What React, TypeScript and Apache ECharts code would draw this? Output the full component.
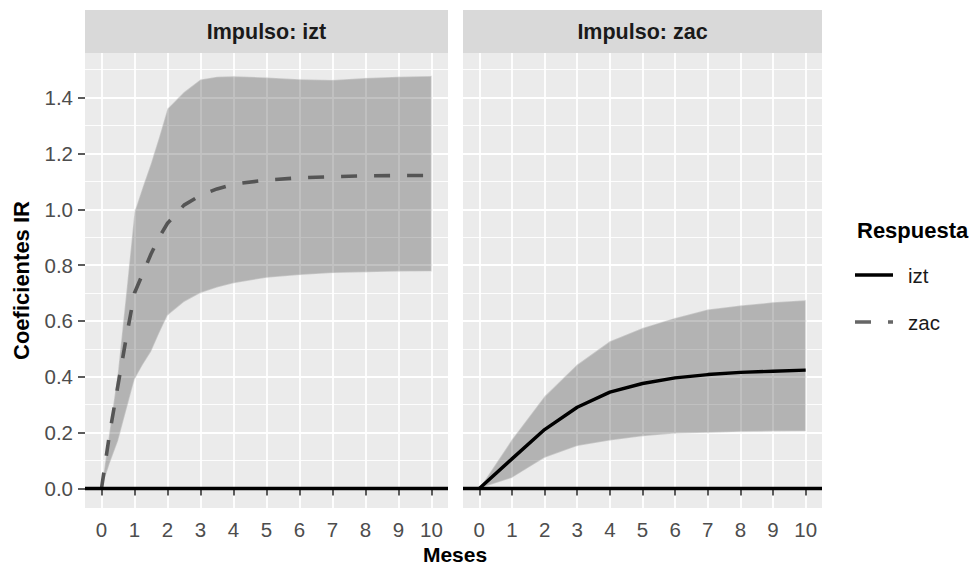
import React, { useEffect, useRef } from "react";
import * as echarts from "echarts";

// ---- data ----
const mesesIzt = [0, 0.25, 0.5, 0.75, 1, 1.25, 1.5, 1.75, 2, 2.5, 3, 3.5, 4, 5, 6, 7, 8, 9, 10];
// Impulso izt -> respuesta zac
const iztZacMid = [0, 0.2, 0.37, 0.54, 0.7, 0.77, 0.84, 0.9, 0.95, 1.015, 1.05, 1.073, 1.09, 1.105, 1.113, 1.117, 1.12, 1.121, 1.121];
const iztZacUpper = [0, 0.21, 0.42, 0.7, 0.99, 1.08, 1.165, 1.26, 1.36, 1.42, 1.465, 1.475, 1.477, 1.472, 1.466, 1.463, 1.47, 1.475, 1.478];
const iztZacLower = [0, 0.09, 0.17, 0.28, 0.39, 0.443, 0.49, 0.557, 0.62, 0.668, 0.7, 0.72, 0.735, 0.755, 0.765, 0.772, 0.775, 0.777, 0.778];

const mesesZac = [0, 1, 2, 3, 4, 5, 6, 7, 8, 9, 10];
// Impulso zac -> respuesta izt
const zacIztMid = [0, 0.106, 0.211, 0.291, 0.345, 0.376, 0.396, 0.408, 0.416, 0.42, 0.424];
const zacIztUpper = [0, 0.175, 0.33, 0.444, 0.527, 0.575, 0.611, 0.641, 0.655, 0.667, 0.674];
const zacIztLower = [0, 0.038, 0.11, 0.152, 0.172, 0.187, 0.197, 0.2, 0.203, 0.205, 0.206];

const xTicks = [0, 1, 2, 3, 4, 5, 6, 7, 8, 9, 10];
const yTicks = [0, 0.2, 0.4, 0.6, 0.8, 1.0, 1.2, 1.4];
const yMinor = [0.1, 0.3, 0.5, 0.7, 0.9, 1.1, 1.3, 1.5];
const panelTitles = ["Impulso: izt", "Impulso: zac"];
const legendTitle = "Respuesta";
const legendNames = ["izt", "zac"];

const FONT = "'Liberation Sans', Arial, Helvetica, sans-serif";
const X_MIN = -0.5, X_MAX = 10.5, Y_MIN = -0.07, Y_MAX = 1.56;
const BAND_FILL = "rgba(0,0,0,0.24)";
const ZAC_COLOR = "#555555";

const pairs = (xs: number[], ys: number[]) => xs.map((x, i) => [x, ys[i]]);

const bandSeries = (name: string, gi: number, yi: number, xs: number[], lo: number[], hi: number[]) => ({
  type: "custom",
  name,
  coordinateSystem: "cartesian2d",
  xAxisIndex: gi,
  yAxisIndex: yi,
  silent: true,
  z: 2,
  data: xs.map((x, i) => [x, lo[i], hi[i]]),
  encode: { x: 0, y: [1, 2] },
  renderItem: (params: any, api: any) => {
    if (params.dataIndex !== 0) return null;
    const upPts = xs.map((x, i) => api.coord([x, hi[i]]));
    const loPts = xs.map((x, i) => api.coord([x, lo[i]])).reverse();
    return {
      type: "polygon",
      shape: { points: upPts.concat(loPts) },
      style: { fill: BAND_FILL, stroke: "rgba(235,235,235,0.35)", lineWidth: 1.5 },
    };
  },
});

export default function App() {
  const ref = useRef<HTMLDivElement>(null);
  useEffect(() => {
    if (!ref.current) return;
    const chart = echarts.init(ref.current, undefined, { renderer: "svg" });
    const grids = [
      { left: 85, top: 53, width: 363, height: 455 },
      { left: 463, top: 53, width: 359, height: 455 },
    ];
    const xAxisFor = (gi: number) => ({
      type: "value",
      gridIndex: gi,
      min: X_MIN,
      max: X_MAX,
      axisLine: { show: false },
      axisTick: { show: true, customValues: xTicks, length: 7, lineStyle: { color: "#333333", width: 1.6 } },
      axisLabel: { customValues: xTicks, fontSize: 20.5, color: "#4d4d4d", fontFamily: FONT, margin: 11, formatter: (v: number) => String(v) },
      splitLine: { show: true, lineStyle: { color: "#ffffff", width: 1.8 } },
    });
    const yMajor = (gi: number, labels: boolean) => ({
      type: "value",
      gridIndex: gi,
      position: "left",
      min: Y_MIN,
      max: Y_MAX,
      axisLine: { show: false },
      axisTick: { show: labels, customValues: yTicks, length: 7, lineStyle: { color: "#333333", width: 1.6 } },
      axisLabel: { show: labels, customValues: yTicks, fontSize: 20.5, color: "#4d4d4d", fontFamily: FONT, margin: 12, formatter: (v: number) => v.toFixed(1) },
      splitLine: { show: true, lineStyle: { color: "#ffffff", width: 1.8 } },
    });
    const yMinorAxis = (gi: number) => ({
      type: "value",
      gridIndex: gi,
      position: "left",
      min: Y_MIN,
      max: Y_MAX,
      axisLine: { show: false },
      axisTick: { show: false, customValues: yMinor },
      axisLabel: { show: false, customValues: yMinor },
      splitLine: { show: true, lineStyle: { color: "#ffffff", width: 0.9 } },
    });
    const zeroLine = {
      silent: true,
      symbol: ["none", "none"],
      label: { show: false },
      lineStyle: { color: "#000000", width: 3.4, type: "solid" },
      data: [{ yAxis: 0 }],
    };
    const bold = (text: string, x: number, y: number, size: number, align: string, extra: any = {}) => ({
      type: "text", x, y, ...extra,
      style: { text, fontSize: size, lineHeight: size, fontWeight: "bold", fontFamily: FONT, fill: "#000000", textAlign: align, textVerticalAlign: "middle" },
    });
    const option = {
      animation: false,
      grid: grids.map((g) => ({ ...g, show: true, backgroundColor: "#ebebeb", borderWidth: 0 })),
      xAxis: [xAxisFor(0), xAxisFor(1)],
      yAxis: [yMinorAxis(0), yMajor(0, true), yMinorAxis(1), yMajor(1, false)],
      series: [
        bandSeries("banda izt", 0, 1, mesesIzt, iztZacLower, iztZacUpper),
        {
          type: "line", name: legendNames[1], xAxisIndex: 0, yAxisIndex: 1,
          data: pairs(mesesIzt, iztZacMid), symbol: "none", smooth: false,
          lineStyle: { color: ZAC_COLOR, width: 3.6, type: [16, 17] }, itemStyle: { color: ZAC_COLOR },
          markLine: zeroLine, z: 3,
        },
        bandSeries("banda zac", 1, 3, mesesZac, zacIztLower, zacIztUpper),
        {
          type: "line", name: legendNames[0], xAxisIndex: 1, yAxisIndex: 3,
          data: pairs(mesesZac, zacIztMid), symbol: "none",
          lineStyle: { color: "#000000", width: 3.4, type: "solid" }, itemStyle: { color: "#000000" },
          markLine: zeroLine, z: 3,
        },
      ],
      graphic: [
        ...grids.map((g, i) => ({
          type: "group",
          children: [
            { type: "rect", shape: { x: g.left, y: 10, width: g.width, height: 43 }, style: { fill: "#d9d9d9" }, z: 10 },
            {
              type: "text", x: g.left + g.width / 2, y: 31.5, z: 11,
              style: { text: panelTitles[i], fontSize: 21.5, fontWeight: "bold", fontFamily: FONT, fill: "#1a1a1a", textAlign: "center", textVerticalAlign: "middle" },
            },
          ],
        })),
        bold("Meses", 455, 554.5, 21, "center"),
        bold("Coeficientes IR", 21.5, 280.5, 22, "center", { rotation: Math.PI / 2 }),
        bold(legendTitle, 857, 230, 22, "left"),
        // legend keys
        { type: "line", shape: { x1: 855, y1: 275, x2: 893, y2: 275 }, style: { stroke: "#000000", lineWidth: 3.4 } },
        { type: "line", shape: { x1: 855, y1: 322, x2: 893, y2: 322 }, style: { stroke: "#666666", lineWidth: 3.6, lineDash: [16, 17] } },
        {
          type: "text", x: 908, y: 275,
          style: { text: legendNames[0], fontSize: 20.5, fontFamily: FONT, fill: "#1a1a1a", textAlign: "left", textVerticalAlign: "middle" },
        },
        {
          type: "text", x: 908, y: 322,
          style: { text: legendNames[1], fontSize: 20.5, fontFamily: FONT, fill: "#1a1a1a", textAlign: "left", textVerticalAlign: "middle" },
        },
      ],
    };
    chart.setOption(option as any);
    return () => chart.dispose();
  }, []);
  return <div ref={ref} style={{ position: "fixed", left: 0, top: 0, width: 969, height: 567, background: "#ffffff" }} />;
}
